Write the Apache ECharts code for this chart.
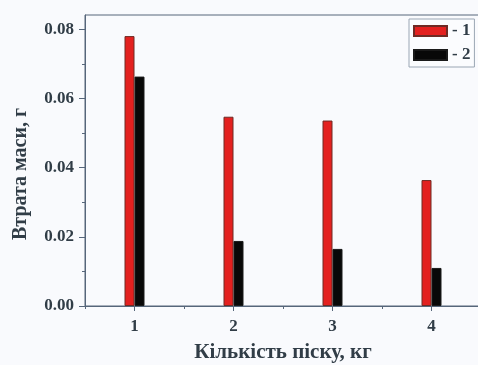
<!DOCTYPE html>
<html>
<head>
<meta charset="utf-8">
<script src="https://cdn.jsdelivr.net/npm/echarts@6/dist/echarts.min.js"></script>
<style>
  html, body { margin: 0; padding: 0; background: #f9fafd; }
  #chart { width: 478px; height: 365px; }
</style>
</head>
<body>
<div id="chart"></div>
<script>
// Sand mass categories (kg) and mass loss (g) for the two samples
const categories = ['1', '2', '3', '4'];
const series1 = [0.078, 0.0547, 0.0536, 0.0364];
const series2 = [0.0663, 0.0188, 0.0165, 0.011];
const seriesNames = ['1', '2'];
const yTicks = [0, 0.02, 0.04, 0.06, 0.08];
const yMinorTicks = [0.01, 0.03, 0.05, 0.07];

const textColor = '#313d47';
const axisColor = '#56667a';
const serif = '"Liberation Serif", "DejaVu Serif", serif';

const chart = echarts.init(document.getElementById('chart'));
chart.setOption({
  backgroundColor: '#f9fafd',
  animation: false,
  grid: {
    left: 85, top: 15, width: 396, height: 291,
    containLabel: false,
    outerBoundsMode: 'none',
    show: true, borderColor: axisColor, borderWidth: 1,
    backgroundColor: 'transparent'
  },
  legend: {
    orient: 'vertical',
    left: 409, top: 19,
    padding: [3, 4, 3, 4],
    itemWidth: 33, itemHeight: 10, itemGap: 6,
    icon: 'rect',
    backgroundColor: '#fbfcfe',
    borderColor: '#9aa6b4', borderWidth: 1,
    formatter: name => '- ' + name,
    textStyle: { fontFamily: serif, fontSize: 17, fontWeight: 'bold', color: textColor, lineHeight: 18 },
    data: seriesNames
  },
  graphic: [{
    type: 'text',
    x: 21, y: 174,
    rotation: Math.PI / 2,
    style: {
      text: 'Втрата маси, г',
      fontFamily: serif, fontSize: 20, fontWeight: 'bold', fill: textColor,
      align: 'center', verticalAlign: 'middle'
    }
  }],
  xAxis: [{
    type: 'category',
    data: categories,
    boundaryGap: true,
    axisLine: { show: true, lineStyle: { color: axisColor, width: 1 } },
    axisTick: { show: true, alignWithLabel: true, inside: false, length: 5, lineStyle: { color: axisColor } },
    axisLabel: { fontFamily: serif, fontSize: 17, fontWeight: 'bold', color: textColor, margin: 12 },
    name: 'Кількість піску, кг',
    nameLocation: 'middle',
    nameGap: 36,
    nameTextStyle: { fontFamily: serif, fontSize: 21, fontWeight: 'bold', color: textColor },
    splitLine: { show: false }
  }, {
    // boundary ticks between categories
    type: 'category',
    data: categories,
    boundaryGap: true,
    position: 'bottom',
    axisLine: { show: false },
    axisTick: { show: true, alignWithLabel: false, length: 3, lineStyle: { color: axisColor } },
    axisLabel: { show: false },
    splitLine: { show: false }
  }],
  yAxis: [{
    type: 'value',
    min: 0, max: 0.0841,
    axisLine: { show: true, lineStyle: { color: axisColor, width: 1 } },
    axisTick: { show: true, length: 6, lineStyle: { color: axisColor }, customValues: yTicks },
    axisLabel: {
      fontFamily: serif, fontSize: 17, fontWeight: 'bold', color: textColor, margin: 11,
      customValues: yTicks,
      formatter: v => v.toFixed(2)
    },
    splitLine: { show: false }
  }, {
    // minor ticks
    type: 'value',
    min: 0, max: 0.0841,
    position: 'left',
    axisLine: { show: false },
    axisTick: { show: true, length: 3, lineStyle: { color: axisColor }, customValues: yMinorTicks },
    axisLabel: { show: false, customValues: yMinorTicks },
    splitLine: { show: false }
  }],
  series: [{
    name: seriesNames[0],
    type: 'bar',
    data: series1,
    barWidth: 10,
    barGap: '0%',
    itemStyle: { color: '#e3201f', borderColor: '#6e2a24', borderWidth: 1 }
  }, {
    name: seriesNames[1],
    type: 'bar',
    data: series2,
    barWidth: 10,
    barGap: '0%',
    itemStyle: { color: '#080808', borderColor: '#1a1a1a', borderWidth: 1 }
  }]
});
</script>
</body>
</html>
